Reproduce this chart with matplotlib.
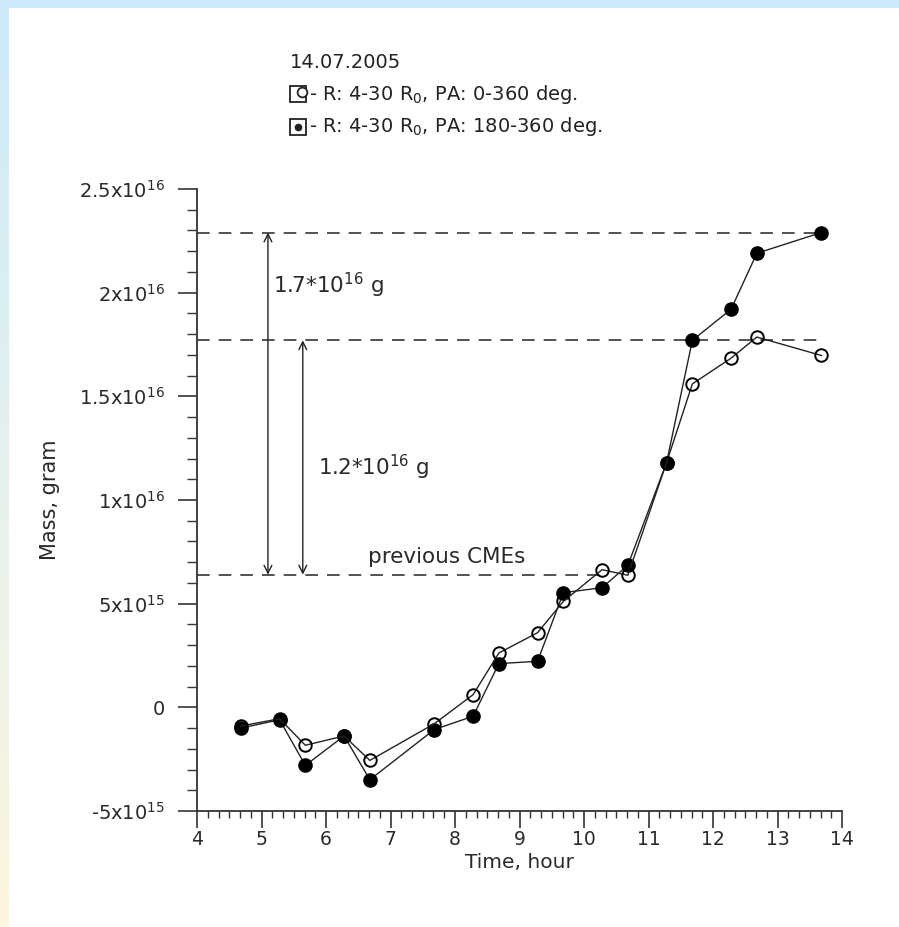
import numpy as np
import matplotlib
matplotlib.use("Agg")
import matplotlib.pyplot as plt
from matplotlib.ticker import FixedLocator, FixedFormatter, MultipleLocator
from matplotlib.patches import Rectangle

plt.rcParams['font.family'] = ['DejaVu Sans']
plt.rcParams['mathtext.fontset'] = 'dejavusans'
plt.rcParams['mathtext.default'] = 'regular'

# --- data: CME mass vs time, 14.07.2005 ---
time_h = [4.68, 5.28, 5.68, 6.28, 6.68, 7.68, 8.28, 8.68, 9.28, 9.68,
          10.28, 10.68, 11.28, 11.68, 12.28, 12.68, 13.68]
# R: 4-30 R0, PA: 0-360 deg. (open circles)
mass_pa_full = [-0.9e15, -0.55e15, -1.83e15, -1.38e15, -2.56e15, -0.79e15, 0.61e15,
                2.62e15, 3.60e15, 5.11e15, 6.64e15, 6.37e15, 11.8e15, 15.6e15,
                16.84e15, 17.86e15, 16.97e15]
# R: 4-30 R0, PA: 180-360 deg. (filled circles)
mass_pa_half = [-1.0e15, -0.6e15, -2.8e15, -1.38e15, -3.49e15, -1.07e15, -0.43e15,
                2.11e15, 2.22e15, 5.53e15, 5.77e15, 6.85e15, 11.8e15, 17.7e15,
                19.2e15, 21.9e15, 22.9e15]

y_ticks = [-5e15, 0, 5e15, 1e16, 1.5e16, 2e16, 2.5e16]
y_tick_labels = ["-5x10$^{15}$", "0", "5x10$^{15}$", "1x10$^{16}$",
                 "1.5x10$^{16}$", "2x10$^{16}$", "2.5x10$^{16}$"]
x_ticks = [4, 5, 6, 7, 8, 9, 10, 11, 12, 13, 14]
x_tick_labels = [str(v) for v in x_ticks]

level_previous = 6.4e15     # mass of previous CMEs
level_mid = 1.77e16
level_top = 2.29e16
arrow_text_top = "1.7*10$^{16}$ g"
arrow_text_mid = "1.2*10$^{16}$ g"

TXT = '#2a2a2a'
W, H = 899, 927
fig = plt.figure(figsize=(W / 100, H / 100), dpi=100)
fig.patch.set_facecolor('white')

# page border: blue strip on top, blue-to-cream gradient strip on the left
c_top = np.array([205, 235, 250]) / 255
c_bot = np.array([253, 246, 224]) / 255
g = np.linspace(0, 1, 256)[:, None, None]
grad = c_top[None, None, :] * (1 - g) + c_bot[None, None, :] * g
bg = fig.add_axes([0, 0, 9 / W, 1])
bg.imshow(grad, aspect='auto')
bg.axis('off')
fig.patches.append(Rectangle((0, 1 - 8 / H), 1, 8 / H, transform=fig.transFigure,
                             facecolor=c_top, edgecolor='none', zorder=0))

ax = fig.add_axes([197 / W, 1 - 811 / H, (842 - 197) / W, (811 - 189) / H])
ax.set_xlim(4, 14)
ax.set_ylim(-5e15, 2.5e16)

for s in ('top', 'right'):
    ax.spines[s].set_visible(False)
for s in ('left', 'bottom'):
    ax.spines[s].set_linewidth(1.3)
    ax.spines[s].set_color('#333333')

ax.xaxis.set_major_locator(FixedLocator(x_ticks))
ax.xaxis.set_major_formatter(FixedFormatter(x_tick_labels))
ax.xaxis.set_minor_locator(MultipleLocator(1 / 6))
ax.yaxis.set_major_locator(FixedLocator(y_ticks))
ax.yaxis.set_major_formatter(FixedFormatter(y_tick_labels))
ax.yaxis.set_minor_locator(MultipleLocator(1e15))

ax.tick_params(axis='x', which='major', length=12, width=1.2, color='#333333',
               labelsize=13.5, labelcolor=TXT, pad=1.5)
ax.tick_params(axis='x', which='minor', length=5, width=1.0, color='#333333')
ax.tick_params(axis='y', which='major', length=14, width=1.2, color='#333333',
               labelsize=14, labelcolor=TXT, pad=9)
ax.tick_params(axis='y', which='minor', length=7, width=1.0, color='#333333')

ax.set_xlabel("Time, hour", fontsize=14.5, color=TXT)
ax.set_ylabel("Mass, gram", fontsize=15, color=TXT)
ax.xaxis.set_label_coords(0.5, -(863 - 811) / (811 - 189), transform=ax.transAxes)
ax.xaxis.label.set_va('center')
ax.yaxis.set_label_coords(-(197 - 50) / (842 - 197), 0.5, transform=ax.transAxes)
ax.yaxis.label.set_va('center')

# reference levels
dash = dict(color='#444444', lw=1.3, linestyle=(0, (7, 5)), zorder=1)
ax.plot([4, time_h[-1]], [level_top, level_top], **dash)
ax.plot([4, time_h[-1]], [level_mid, level_mid], **dash)
ax.plot([4, 10.25], [level_previous, level_previous], **dash)

# series
ax.plot(time_h, mass_pa_half, '-o', color='#222222', lw=1.0, ms=9.5,
        mfc='black', mec='black', zorder=3)
ax.plot(time_h, mass_pa_full, '-o', color='#222222', lw=1.0, ms=9,
        mfc='none', mec='black', mew=1.4, zorder=4)

# double arrows for mass increments
for xa, ytop in ((5.10, level_top), (5.64, level_mid)):
    ax.annotate('', xy=(xa, ytop), xytext=(xa, level_previous),
                arrowprops=dict(arrowstyle='<->', color='#222222', lw=1.0,
                                shrinkA=0, shrinkB=0, mutation_scale=14))

ax.text(5.18, 2.035e16, arrow_text_top, fontsize=15.5, color=TXT, va='center')
ax.text(5.88, 1.157e16, arrow_text_mid, fontsize=15.5, color=TXT, va='center')
ax.text(6.65, 6.75e15, "previous CMEs", fontsize=15.5, color=TXT, va='bottom')

# legend block above the plot
fig.text(290 / W, 1 - 63 / H, "14.07.2005", fontsize=14, color='#222222', va='center')
row_y = [94, 127]
row_text = ["- R: 4-30 R$_0$, PA: 0-360 deg.", "- R: 4-30 R$_0$, PA: 180-360 deg."]
for i, (py, txt) in enumerate(zip(row_y, row_text)):
    fy = 1 - py / H
    fig.text(309 / W, fy, txt, fontsize=14, color='#222222', va='center')
    fig.add_artist(plt.Line2D([298 / W], [fy], marker='s', ms=11, mfc='none',
                              mec='#222222', mew=1.3, transform=fig.transFigure))
    if i == 0:
        fig.add_artist(plt.Line2D([302 / W], [fy + 2 / H], marker='o', ms=7, mfc='white',
                                  mec='#222222', mew=1.3, transform=fig.transFigure))
    else:
        fig.add_artist(plt.Line2D([298 / W], [fy], marker='o', ms=4.5, mfc='#222222',
                                  mec='#222222', transform=fig.transFigure))

fig.savefig("out.png", dpi=100)
